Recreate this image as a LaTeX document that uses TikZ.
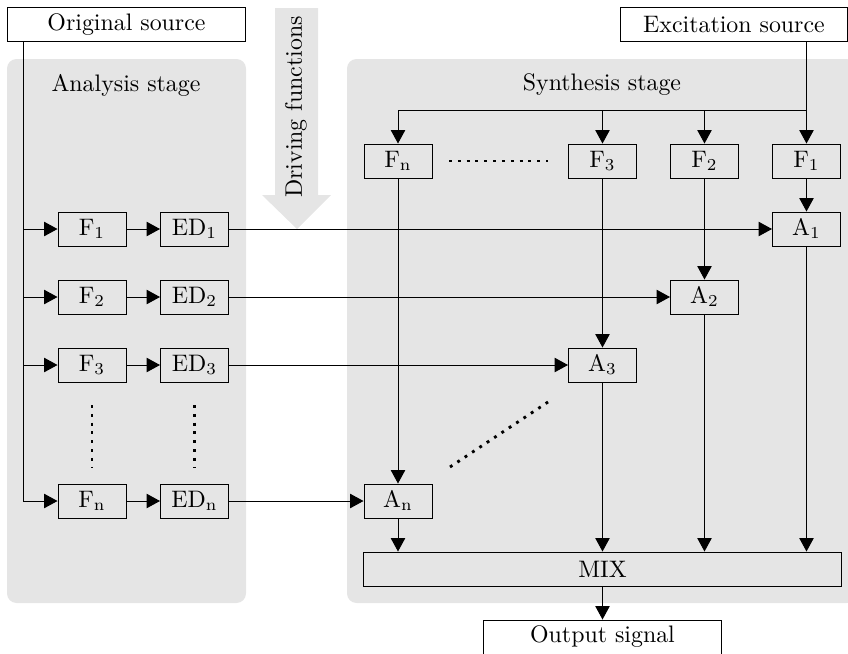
\documentclass[tikz,border=0pt]{standalone}
\usetikzlibrary{arrows.meta}
\begin{document}
\begin{tikzpicture}[x=0.419pt,y=-0.419pt,
  panel/.style={fill=gray!20,draw=none,rounded corners=4pt},
  blk/.style={draw,minimum width=28.5pt,minimum height=14.25pt,inner sep=0pt},
  wide/.style={draw,fill=white,minimum width=100pt,minimum height=14pt,inner sep=0pt},
  arr/.style={-{Triangle[length=5.6pt,width=6pt]}},
  dots/.style={line width=1.2pt,dash pattern=on 1.2pt off 2.5pt}]
\useasboundingbox (0,0) rectangle (848,653);

% stage panels
\fill[panel] (7,59) rectangle (246,603);
\fill[panel] (347,59) rectangle (856,603);
\node at (126,85) {Analysis stage};
\node at (602,85) {Synthesis stage};

% broad arrow carrying the driving functions
\fill[gray!20] (275,8) -- (318,8) -- (318,195) -- (331,195) -- (297,229)
  -- (262,195) -- (275,195) -- cycle;
\node[rotate=90] at (296,107) {Driving functions};

% sources and output
\node[wide] (orig) at (126.5,24.5) {Original source};
\node[wide,minimum width=95.5pt] (exc) at (734,24.5) {Excitation source};
\node[wide,minimum height=14.25pt] (out) at (602.5,637) {Output signal};

% analysis filters and envelope detectors
\node[blk] (f1) at (92,229) {$\mathrm{F_1}$};
\node[blk] (f2) at (92,297) {$\mathrm{F_2}$};
\node[blk] (f3) at (92,365) {$\mathrm{F_3}$};
\node[blk] (fn) at (92,501) {$\mathrm{F_n}$};
\node[blk] (ed1) at (194.5,229) {$\mathrm{ED_1}$};
\node[blk] (ed2) at (194.5,297) {$\mathrm{ED_2}$};
\node[blk] (ed3) at (194.5,365) {$\mathrm{ED_3}$};
\node[blk] (edn) at (194.5,501) {$\mathrm{ED_n}$};

% synthesis filters and amplitude stages
\node[blk] (sn) at (398,161) {$\mathrm{F_n}$};
\node[blk] (s3) at (602.5,161) {$\mathrm{F_3}$};
\node[blk] (s2) at (704.5,161) {$\mathrm{F_2}$};
\node[blk] (s1) at (806.5,161) {$\mathrm{F_1}$};
\node[blk] (a1) at (806.5,229) {$\mathrm{A_1}$};
\node[blk] (a2) at (704.5,297) {$\mathrm{A_2}$};
\node[blk] (a3) at (602.5,365) {$\mathrm{A_3}$};
\node[blk] (an) at (398,501) {$\mathrm{A_n}$};
\node[blk,minimum width=199.9pt] (mix) at (602.5,569) {MIX};

% analysis input bus
\coordinate (obus) at (23,41);
\draw[arr] (obus) |- (fn.west);
\draw[arr] (obus |- f1.west) -- (f1.west);
\draw[arr] (obus |- f2.west) -- (f2.west);
\draw[arr] (obus |- f3.west) -- (f3.west);
\draw[arr] (f1) -- (ed1);
\draw[arr] (f2) -- (ed2);
\draw[arr] (f3) -- (ed3);
\draw[arr] (fn) -- (edn);
\draw[dots] (92,405) -- (92,467);
\draw[dots] (194.5,405) -- (194.5,467);

% envelopes to amplitude stages
\draw[arr] (ed1) -- (a1);
\draw[arr] (ed2) -- (a2);
\draw[arr] (ed3) -- (a3);
\draw[arr] (edn) -- (an);

% excitation bus
\coordinate (ebus) at (806.5,110);
\draw[arr] (s1 |- exc.south) -- (s1);
\draw (ebus) -- (ebus -| sn);
\draw[arr] (ebus -| sn) -- (sn);
\draw[arr] (ebus -| s3) -- (s3);
\draw[arr] (ebus -| s2) -- (s2);
\draw[dots] (449,161) -- (548,161);

% filters to amplitude stages
\draw[arr] (s1) -- (a1);
\draw[arr] (s2) -- (a2);
\draw[arr] (s3) -- (a3);
\draw[arr] (sn) -- (an);
\draw[dots] (450,467) -- (551,400);

% amplitude stages to mixer and output
\draw[arr] (an) -- (an |- mix.north);
\draw[arr] (a3) -- (a3 |- mix.north);
\draw[arr] (a2) -- (a2 |- mix.north);
\draw[arr] (a1) -- (a1 |- mix.north);
\draw[arr] (mix) -- (out);
\end{tikzpicture}
\end{document}
